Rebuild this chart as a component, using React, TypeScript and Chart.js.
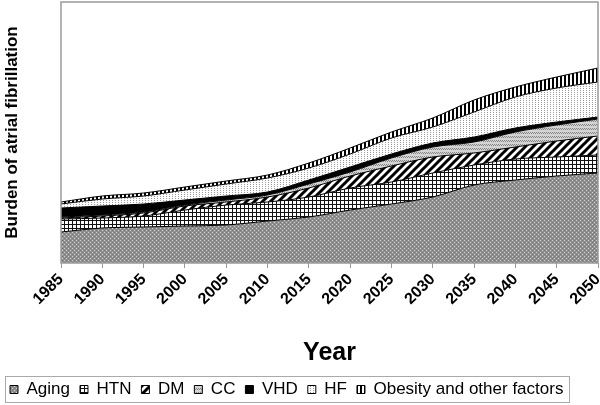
import React, { useEffect, useRef } from "react";
import { Chart, registerables } from "chart.js";

Chart.register(...registerables);

const years = ["1985", "1990", "1995", "2000", "2005", "2010", "2015", "2020", "2025", "2030", "2035", "2040", "2045", "2050"];
const seriesNames = ["Aging", "HTN", "DM", "CC", "VHD", "HF", "Obesity and other factors"];

const aging = [31, 35, 36, 37, 38, 42, 46, 53, 59, 66, 78, 83, 87, 90];
const htn = [13, 10, 11, 16, 20, 19, 20, 22, 22, 24, 20, 21, 19, 18];
const dm = [1, 2, 3, 4, 3, 5, 9, 12, 16, 16, 12, 12, 16, 19];
const cc = [1, 1, 1, 1, 2, 2, 4, 4, 8, 10, 11, 15, 16, 17];
const vhd = [9, 9, 8, 5, 4, 3, 4, 5, 4, 4, 5, 4, 3, 2];
const hf = [4, 7, 8, 10, 12, 14, 12, 13, 16, 16, 25, 31, 34, 35];
const obesity = [2, 3, 3, 3, 3, 3, 5, 6, 6, 9, 12, 10, 11, 14];

const yAxisTitle = "Burden of atrial fibrillation";
const xAxisTitle = "Year";
const yMax = 261;

const FONT = "'Liberation Sans', Arial, Helvetica, sans-serif";

function tile(w: number, h: number, draw: (g: CanvasRenderingContext2D) => void): CanvasPattern {
  const c = document.createElement("canvas");
  c.width = w;
  c.height = h;
  const g = c.getContext("2d") as CanvasRenderingContext2D;
  draw(g);
  return g.createPattern(c, "repeat") as CanvasPattern;
}

function px(g: CanvasRenderingContext2D, color: string, pts: number[][]) {
  g.fillStyle = color;
  pts.forEach(([x, y]) => g.fillRect(x, y, 1, 1));
}

function makePatterns(): (CanvasPattern | string)[] {
  const agingP = tile(4, 4, (g) => {
    g.fillStyle = "#8e8e8e";
    g.fillRect(0, 0, 4, 4);
    px(g, "#d2d2d2", [[0, 0], [2, 2]]);
    px(g, "#777777", [[2, 0], [0, 2]]);
  });
  const htnP = tile(4, 4, (g) => {
    g.fillStyle = "#ffffff";
    g.fillRect(0, 0, 4, 4);
    g.fillStyle = "#111111";
    g.fillRect(0, 0, 4, 1);
    g.fillRect(0, 0, 1, 4);
  });
  const dmP = tile(8, 8, (g) => {
    g.fillStyle = "#ffffff";
    g.fillRect(0, 0, 8, 8);
    g.strokeStyle = "#000000";
    g.lineWidth = 3;
    [0, 8, 16].forEach((k) => {
      g.beginPath();
      g.moveTo(k + 2, -2);
      g.lineTo(-2, k + 2);
      g.stroke();
    });
  });
  const ccP = tile(4, 4, (g) => {
    g.fillStyle = "#d4d4d4";
    g.fillRect(0, 0, 4, 4);
    px(g, "#858585", [[0, 0], [1, 1], [2, 0], [3, 1]]);
  });
  const hfP = tile(3, 2, (g) => {
    g.fillStyle = "#ffffff";
    g.fillRect(0, 0, 3, 2);
    px(g, "#9c9c9c", [[1, 0]]);
  });
  const obP = tile(4, 4, (g) => {
    g.fillStyle = "#ffffff";
    g.fillRect(0, 0, 4, 4);
    g.fillStyle = "#000000";
    g.fillRect(0, 0, 2, 4);
  });
  return [agingP, htnP, dmP, ccP, "#000000", hfP, obP];
}

const framePlugin = {
  id: "frameBox",
  afterDraw(chart: any) {
    const { ctx, chartArea: a } = chart;
    ctx.save();
    ctx.strokeStyle = "#9a9a9a";
    ctx.lineWidth = 1.5;
    ctx.strokeRect(a.left, a.top, a.right - a.left, a.bottom - a.top);
    const lg = chart.legend;
    const hb = lg && lg.legendHitBoxes;
    if (hb && hb.length) {
      const first = hb[0];
      const last = hb[hb.length - 1];
      const x0 = Math.round(first.left - 5) + 0.5;
      const x1 = Math.round(last.left + last.width + 6) + 0.5;
      const y0 = Math.round(first.top - 5) + 0.5;
      const y1 = Math.round(first.top + first.height + 4) + 0.5;
      ctx.strokeStyle = "#aaaaaa";
      ctx.lineWidth = 1;
      ctx.strokeRect(x0, y0, x1 - x0, y1 - y0);
    }
    ctx.restore();
  },
};

export default function App() {
  const ref = useRef<HTMLCanvasElement>(null);
  useEffect(() => {
    document.body.style.margin = "0";
    const patterns = makePatterns();
    const series = [aging, htn, dm, cc, vhd, hf, obesity];
    const chart = new Chart(ref.current as HTMLCanvasElement, {
      type: "line",
      data: {
        labels: years,
        datasets: series.map((d, i) => ({
          label: seriesNames[i],
          data: d,
          backgroundColor: patterns[i] as any,
          borderColor: "#000000",
          borderWidth: 1,
          fill: i === 0 ? "origin" : "-1",
          pointRadius: 0,
          cubicInterpolationMode: "monotone" as const,
        })),
      },
      options: {
        animation: false,
        responsive: false,
        events: [],
        layout: { padding: { top: 2, right: 2, left: 0, bottom: -3 } },
        plugins: {
          legend: {
            position: "bottom",
            align: "start",
            labels: {
              boxWidth: 8,
              boxHeight: 8,
              padding: 10,
              color: "#000000",
              font: { family: FONT, size: 17 },
            },
          },
          tooltip: { enabled: false },
        },
        scales: {
          x: {
            type: "category",
            offset: false,
            grid: { display: true, drawOnChartArea: false, drawTicks: true, tickLength: 5, color: "#999999" },
            border: { display: false },
            ticks: {
              autoSkip: false,
              minRotation: 45,
              maxRotation: 45,
              padding: 2,
              color: "#000000",
              font: { family: FONT, size: 16, weight: "bold" },
            },
            title: {
              display: true,
              text: xAxisTitle,
              color: "#000000",
              font: { family: FONT, size: 25, weight: "bold" },
              padding: { top: 0, bottom: 3 },
            },
            afterFit: (s: any) => {
              s.height = 108;
              s.paddingRight = 0;
              s.paddingLeft = 0;
            },
          },
          y: {
            stacked: true,
            min: 0,
            max: yMax,
            grid: { display: false },
            border: { display: false },
            ticks: { display: false },
            title: {
              display: true,
              text: yAxisTitle,
              color: "#000000",
              font: { family: FONT, size: 17, weight: "bold" },
              padding: { top: 2, bottom: 0 },
            },
            afterFit: (s: any) => {
              s.width = 61;
            },
          },
        },
      },
      plugins: [framePlugin],
    });
    return () => chart.destroy();
  }, []);
  return (
    <div style={{ width: 600, height: 405 }}>
      <canvas ref={ref} width={600} height={405} style={{ display: "block" }} />
    </div>
  );
}
